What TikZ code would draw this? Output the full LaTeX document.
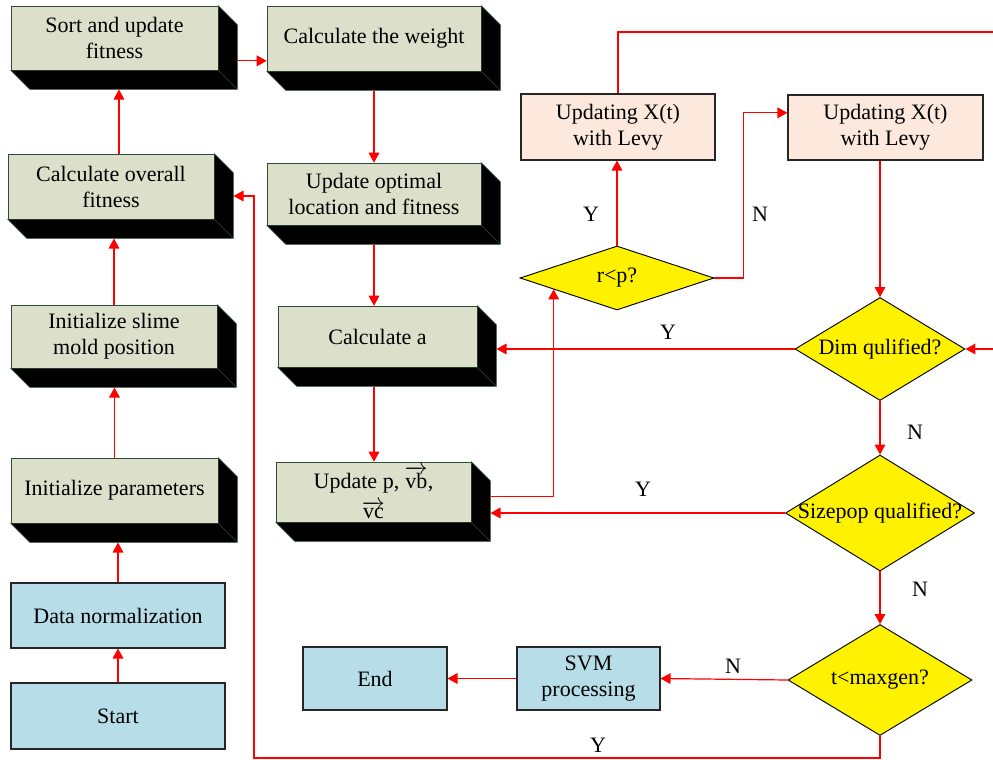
\documentclass[tikz,border=0pt]{standalone}
\usepackage{fontspec}
\setmainfont{Liberation Serif}
\usepackage{tikz}
\usetikzlibrary{arrows.meta,positioning,fit,calc,shapes.geometric}

\definecolor{facegreen}{RGB}{220,224,203}
\definecolor{boxline}{RGB}{45,75,55}
\definecolor{termblue}{RGB}{183,221,232}
\definecolor{levypeach}{RGB}{252,232,220}

% extruded side of a 3D block, plus a fit node (name-3d) round the whole block
\newcommand{\depthbox}[1]{%
  \filldraw[fill=black, draw=boxline]
    (#1.south west) -- ($(#1.south west)+(19,19)$) -- ($(#1.south east)+(19,19)$)
    -- ($(#1.north east)+(19,19)$) -- (#1.north east) -- (#1.south east) -- cycle;
  \draw[boxline] (#1.south east) -- ($(#1.south east)+(19,19)$);
  \coordinate (#1-far) at ($(#1.south east)+(19,19)$);
  \node[fit={(#1.north west)(#1-far)}, inner sep=0pt] (#1-3d) {};}

\begin{document}
\begin{tikzpicture}[
    x=0.75pt, y=-0.75pt,
    every node/.style={font=\fontsize{16.5}{19.5}\selectfont},
    sz/.style 2 args={minimum width=#1*0.75pt, minimum height=#2*0.75pt},
    block/.style={draw=boxline, fill=facegreen, align=center, inner sep=2pt},
    term/.style={draw=black!85, fill=termblue, align=center, line width=0.8pt},
    levy/.style={draw=black!85, fill=levypeach, align=center, line width=0.8pt},
    cond/.style={diamond, draw=black, fill=yellow, inner sep=0pt, line width=0.7pt},
    lbl/.style={inner sep=1pt},
    flow/.style={-{Triangle[length=7.5pt,width=8pt]}, red, line width=0.9pt},
  ]
    \clip (0,0) rectangle (993,760);

    % ---- left column (bottom to top) ----
    \node[term, sz={214}{66}] (start) at (118,716) {Start};
    \node[term, sz={214}{65}] (norm) at (118,615.5) {Data normalization};
    \node[block, sz={207}{65}] (params) at (114.5,490.5) {Initialize parameters};
    \node[block, sz={206}{63}] (slime) at (114,336.5) {Initialize slime\\mold position};
    \node[block, sz={206}{65}] (overall) at (111,186.5) {Calculate overall\\fitness};
    \node[block, sz={207}{64}] (sort) at (114.5,38) {Sort and update\\fitness};

    % ---- middle column ----
    \node[block, sz={214}{65}] (weight) at (374,38.5) {Calculate the weight};
    \node[block, sz={214}{62}] (optimal) at (374,194) {Update optimal\\location and fitness};
    \node[block, sz={199}{61}] (calca) at (377.5,336.5) {Calculate a};
    \node[block, sz={195}{60}, inner sep=0pt] (updp) at (373.5,492)
        {Update p, $\overrightarrow{\mathrm{vb}}$,\\[3pt]$\overrightarrow{\mathrm{vc}}$};

    \foreach \blk in {params,slime,overall,sort,weight,optimal,calca,updp} {\depthbox{\blk}}

    % ---- Levy updates and decisions ----
    \node[levy, sz={194}{66}] (levyL) at (618,127) {Updating X(t)\\with Levy};
    \node[levy, sz={195}{65}] (levyR) at (885.5,127.5) {Updating X(t)\\with Levy};
    \node[cond, sz={194}{64}] (rp) at (617,278) {\makebox[0pt]{r<p?}};
    \node[cond, sz={170}{103}] (dim) at (880,349) {\makebox[0pt]{Dim qulified?}};
    \node[cond, sz={189}{116}] (sizepop) at (880,513) {\makebox[0pt]{Sizepop qualified?}};
    \node[cond, sz={184}{111}] (tmax) at (880,680) {\makebox[0pt]{t<maxgen?}};

    % ---- output ----
    \node[term, sz={143}{63}] (svm) at (588.5,678.5) {SVM\\processing};
    \node[term, sz={144}{63}] (end) at (375,678.5) {End};

    \coordinate (offR) at (1010,32);
    \coordinate (loopL) at (254,758);

    \draw[flow] (start) -- (norm);
    \draw[flow] (norm.north) -- (norm.north |- params-3d.south);
    \draw[flow] (params.north) -- (params.north |- slime-3d.south);
    \draw[flow] (slime.north) -- (slime.north |- overall-3d.south);
    \draw[flow] ([xshift=6pt]overall.north) -- ([xshift=6pt]overall.north |- sort-3d.south);
    \draw[flow] ([yshift=-10pt]sort-3d.east) -- ([yshift=-10pt]sort-3d.east -| weight.west);
    \draw[flow] (weight-3d.south -| weight.south) -- (optimal.north);
    \draw[flow] (optimal-3d.south -| optimal.south) -- (calca.north -| optimal.south);
    \draw[flow] (calca-3d.south -| optimal.south) -- (updp.north -| optimal.south);
    \draw[flow] ([yshift=4pt]updp-3d.east) -| ($(rp.west)!0.35!(rp.south)$);
    \draw[flow] (rp.north) -- (levyL.south -| rp.north);
    \draw[flow] (rp.east) -- ++(29,0) |- ([yshift=11pt]levyR.west);
    \draw[flow] (levyL.north) |- (offR) |- (dim.east);
    \draw[flow] (dim.north |- levyR.south) -- (dim.north);
    \draw[flow] (dim.west) -- (dim.west -| calca-3d.east);
    \draw[flow] (dim.south) -- (sizepop.north);
    \draw[flow] (sizepop.west) -- (sizepop.west -| updp-3d.east);
    \draw[flow] (sizepop.south) -- (tmax.north);
    \draw[flow] (tmax.west) -- (svm.east);
    \draw[flow] (svm.west) -- (end.east);
    \draw[flow] (tmax.south) |- (loopL) |- (overall-3d.east);

    % ---- branch labels ----
    \node[lbl] (yLevy) at (591,214) {Y};
    \node[lbl] (nLevy) at (760,214) {N};
    \node[lbl] (yDim) at (668,332) {Y};
    \node[lbl] (nDim) at (915,432) {N};
    \node[lbl] (ySize) at (643,489) {Y};
    \node[lbl] (nSize) at (920,589) {N};
    \node[lbl] (nMax) at (733,666) {N};
    \node[lbl] (yMax) at (598,745) {Y};
\end{tikzpicture}
\end{document}
